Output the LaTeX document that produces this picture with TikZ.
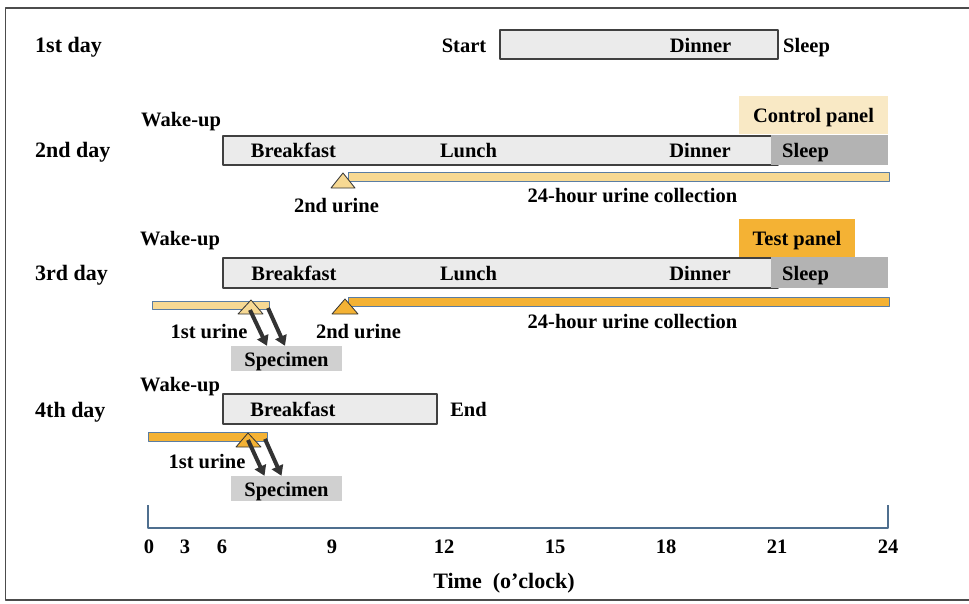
\documentclass[tikz,border=0pt]{standalone}
\usepackage{fontspec}
\setmainfont{Liberation Serif}
\usetikzlibrary{arrows.meta}
\definecolor{boxfill}{HTML}{EBEBEB}
\definecolor{boxline}{HTML}{404040}
\definecolor{sleepgray}{HTML}{B3B3B3}
\definecolor{ctrlfill}{HTML}{F9E9C5}
\definecolor{testfill}{HTML}{F4B234}
\definecolor{lightbar}{HTML}{F7D993}
\definecolor{barline}{HTML}{5A7DA3}
\definecolor{specfill}{HTML}{D0D0D0}
\definecolor{arrowgray}{HTML}{333333}
\definecolor{axisblue}{HTML}{4F6F8F}
\tikzset{
	daybox/.style={fill=boxfill,draw=boxline,line width=1.2pt},
	lightcol/.style={fill=lightbar,draw=barline,line width=1pt},
	orangecol/.style={fill=testfill,draw=barline,line width=1pt},
	lighttri/.style={fill=lightbar,draw=black!80,line width=0.8pt},
	orangetri/.style={fill=testfill,draw=black!80,line width=0.8pt},
	panelbox/.style={inner sep=0pt,text height=15pt,text depth=0pt},
	specbox/.style={fill=specfill,inner sep=0pt,minimum width=111pt,minimum height=25pt,text height=15pt,text depth=0pt},
	specarrow/.style={-{Triangle[length=10pt,width=12pt]},line width=4pt,draw=arrowgray},
	lbl/.style={anchor=base,inner sep=0pt},
	lbll/.style={anchor=base west,inner sep=0pt},
	daylbl/.style={anchor=base west,inner sep=0pt,font=\fontsize{22}{26}\selectfont\bfseries}
}
\begin{document}
\begin{tikzpicture}[x=1pt,y=-1pt,line join=round,font=\fontsize{20.5}{24}\selectfont\bfseries]
				\useasboundingbox (0,0) rectangle (969,603);
				\draw[black!70,line width=1.2pt] (969,8)--(5.5,8)--(5.5,600)--(969,600);
				% day 1
				\filldraw[daybox] (500,30) rectangle (778,59);
				% day 2
				\filldraw[daybox] (223,136) rectangle (778,165);
				\fill[sleepgray] (771,135) rectangle (888,165);
				\node[panelbox,fill=ctrlfill,minimum width=149pt,minimum height=38pt] (ctrl) at (813.5,115) {Control panel};
				\filldraw[lightcol] (348,172) rectangle (889,181);
				\filldraw[lighttri] (331,188)--(343,173)--(355,188)--cycle;
				% day 3
				\filldraw[daybox] (223,258) rectangle (778,288);
				\fill[sleepgray] (771,257) rectangle (888,288);
				\node[panelbox,fill=testfill,minimum width=116pt,minimum height=38pt] (test) at (797,238) {Test panel};
				\filldraw[lightcol] (152,301) rectangle (269,309);
				\filldraw[orangecol] (348,297) rectangle (889,306);
				\filldraw[lighttri] (238,314)--(251,300)--(263,314)--cycle;
				\filldraw[orangetri] (332,314)--(345,299)--(358,314)--cycle;
				\node[specbox] (spec3) at (286.5,358.5) {Specimen};
				\coordinate (u3a) at (250,310);
				\coordinate (u3b) at (268,308);
				\draw[specarrow] (u3a) -- ([xshift=-19.5pt]spec3.north);
				\draw[specarrow] (u3b) -- ([xshift=-1.5pt]spec3.north);
				% day 4
				\filldraw[daybox] (223,394) rectangle (437,424);
				\filldraw[orangecol] (148,432) rectangle (267,441);
				\filldraw[orangetri] (236,447)--(248,433)--(261,447)--cycle;
				\node[specbox] (spec4) at (286.5,488.5) {Specimen};
				\coordinate (u4a) at (248,440);
				\coordinate (u4b) at (265,439);
				\draw[specarrow] (u4a) -- ([xshift=-22pt]spec4.north);
				\draw[specarrow] (u4b) -- ([xshift=-5pt]spec4.north);
				% time axis
				\draw[axisblue,line width=1.5pt] (148,505)--(148,528)--(888,528)--(888,505);
				\foreach \h/\x in {0/149,3/185,6/222,9/332,12/444,15/555,18/666,21/777,24/888}
					\node[lbl] (tick\h) at (\x,553) {\h};
				\path 
				(35,52) node[daylbl] (day1) {1st day}
				(35,157) node[daylbl] (day2) {2nd day}
				(35,280) node[daylbl] (day3) {3rd day}
				(35,417) node[daylbl] (day4) {4th day}
				(464,52) node[lbl] (start) {Start}
				(700.5,52) node[lbl] (dinner1) {Dinner}
				(783,52) node[lbll] (sleep1) {Sleep}
				(141,126) node[lbll] (wake2) {Wake-up}
				(293.5,157) node[lbl] (bkf2) {Breakfast}
				(468.5,157) node[lbl] (lunch2) {Lunch}
				(700,157) node[lbl] (dinner2) {Dinner}
				(782,157) node[lbll] (sleep2) {Sleep}
				(336.5,212) node[lbl] (second2) {2nd urine}
				(632.5,202) node[lbl] (coll2) {24-hour urine collection}
				(140,245) node[lbll] (wake3) {Wake-up}
				(294,280) node[lbl] (bkf3) {Breakfast}
				(468.5,280) node[lbl] (lunch3) {Lunch}
				(700,280) node[lbl] (dinner3) {Dinner}
				(782,280) node[lbll] (sleep3) {Sleep}
				(209,338) node[lbl] (first3) {1st urine}
				(358.5,338) node[lbl] (second3) {2nd urine}
				(632.5,328) node[lbl] (coll3) {24-hour urine collection}
				(140,391) node[lbll] (wake4) {Wake-up}
				(293,416) node[lbl] (bkf4) {Breakfast}
				(468.5,416) node[lbl] (end4) {End}
				(207,468) node[lbl] (first4) {1st urine}
				(504,588) node[lbl,font=\fontsize{22}{26}\selectfont\bfseries] (timelbl) {Time\ \ (o’clock)}
				;
			\end{tikzpicture}
\end{document}
